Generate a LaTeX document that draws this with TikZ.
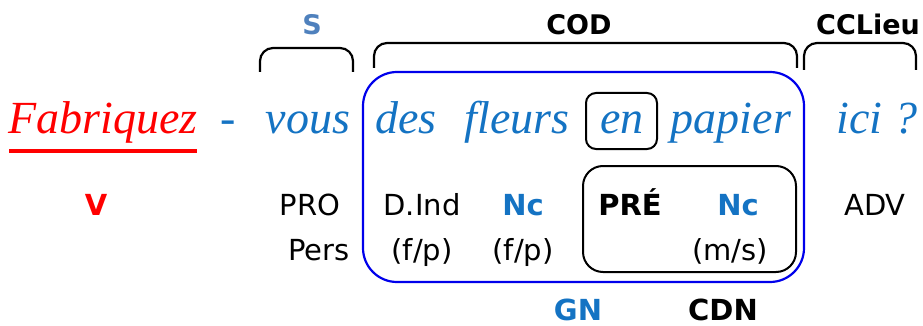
\documentclass[tikz,border=0pt]{standalone}
\usepackage{fontspec}
\setmainfont{Liberation Serif}
\setsansfont{DejaVu Sans}
\begin{document}
\begin{tikzpicture}[x=1pt,y=-1pt,
  cur/.style={anchor=base,inner sep=0pt,font=\fontsize{46}{46}\selectfont\itshape,text=curblue},
  lab/.style={anchor=base,inner sep=0pt,font=\sffamily\fontsize{29}{29}\selectfont},
  blab/.style={anchor=base,inner sep=0pt,font=\sffamily\bfseries\fontsize{29}{29}\selectfont},
  tlab/.style={anchor=base,inner sep=0pt,font=\sffamily\bfseries\fontsize{27}{27}\selectfont},
  brack/.style={draw=black,line width=2.2pt,rounded corners=13pt}]
\definecolor{curblue}{RGB}{20,115,195}
\definecolor{sblue}{RGB}{79,129,189}
\definecolor{boxblue}{RGB}{0,0,235}
\useasboundingbox (0,0) rectangle (923,326);
% boxes
\node[draw=boxblue,line width=2.2pt,rounded corners=34pt,minimum width=441pt,minimum height=210pt,inner sep=0pt] (gnbox) at (583.5,177) {};
\node[draw=black,line width=2pt,rounded corners=10pt,minimum width=71pt,minimum height=56pt,inner sep=0pt] (enbox) at (621.5,121) {};
\node[draw=black,line width=2pt,rounded corners=20pt,minimum width=213pt,minimum height=106pt,inner sep=0pt] (cdnbox) at (689.5,219) {};
% brackets
\draw[brack] (260,72) -- (260,48) -- (353,48) -- (353,72);
\draw[brack] (374,68) -- (374,43) -- (797,43) -- (797,68);
\draw[brack] (804,70) -- (804,43) -- (916,43) -- (916,70);
% top labels
\node[tlab,text=sblue] (s) at (312,35) {S};
\node[tlab] (cod) at (579,35) {COD};
\node[tlab] (ccl) at (868,35) {CCLieu};
% sentence
\node[cur,text=red] (fab) at (103,133) {Fabriquez};
\draw[red,line width=3.5pt] (9,151) -- (197,151);
\node[cur] (dash) at (228,133) {-};
\node[cur] (vous) at (308,133) {vous};
\node[cur] (des) at (406,133) {des};
\node[cur] (fleurs) at (517,133) {fleurs};
\node[cur] (en) at (622,133) {en};
\node[cur] (papier) at (731,133) {papier};
\node[cur] (ici) at (877,133) {ici ?};
% row labels
\node[blab,text=red] (v) at (96,215) {V};
\node[lab] (pro) at (310,215) {PRO};
\node[lab] (pers) at (319,260) {Pers};
\node[lab] (dind) at (422,215) {D.Ind};
\node[lab] (fp1) at (422,260) {(f/p)};
\node[blab,text=curblue] (nc1) at (523,215) {Nc};
\node[lab] (fp2) at (523,260) {(f/p)};
\node[blab] (pre) at (630,215) {PRÉ};
\node[blab,text=curblue] (nc2) at (738,215) {Nc};
\node[lab] (ms) at (730,260) {(m/s)};
\node[lab] (adv) at (875,215) {ADV};
\node[blab,text=curblue] (gn) at (578,320) {GN};
\node[blab] (cdn) at (723,320) {CDN};
\end{tikzpicture}
\end{document}
